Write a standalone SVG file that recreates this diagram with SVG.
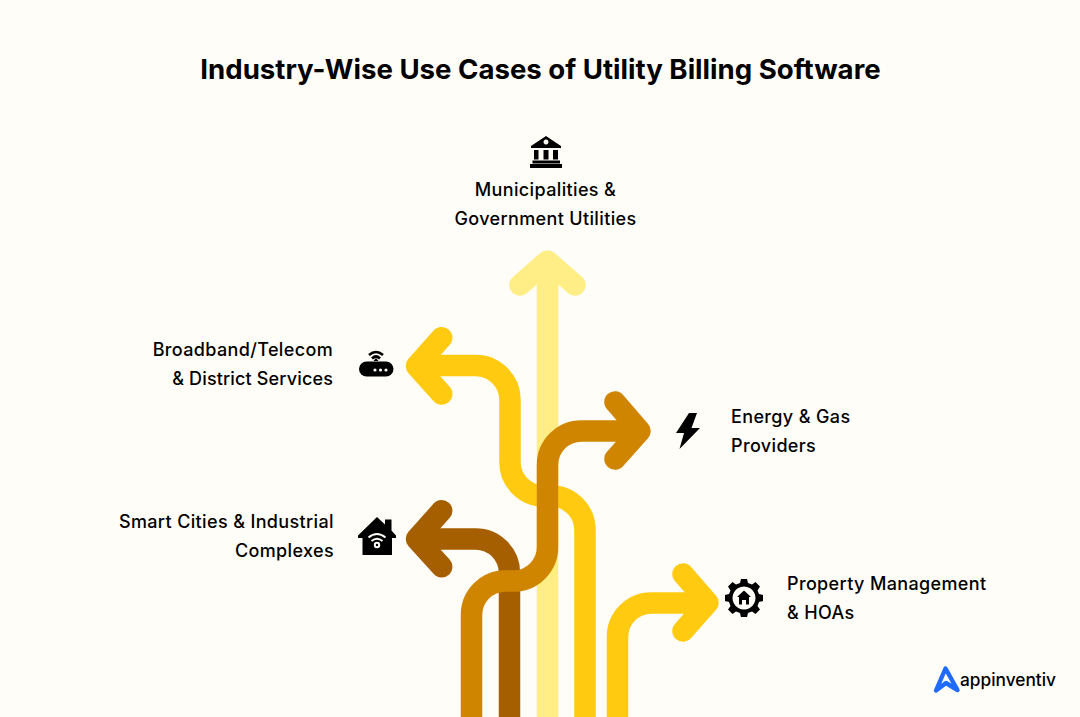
<svg xmlns="http://www.w3.org/2000/svg" width="1080" height="717" viewBox="0 0 1080 717">
<style>
.t{font-family:Inter,"Liberation Sans",sans-serif;font-size:18px;font-weight:500;fill:#000;letter-spacing:.36px}
.a{fill:none;stroke-width:21.5;stroke-linecap:round;stroke-linejoin:round}
.b{fill:none;stroke-width:21.5;stroke-linecap:butt;stroke-linejoin:round}
</style>
<rect width="1080" height="717" fill="#FFFDF7"/>
<text id="title" x="540.5" y="79" text-anchor="middle" style="font-family:Inter,'Liberation Sans',sans-serif;font-size:27.6px;font-weight:700;fill:#000">Industry-Wise Use Cases of Utility Billing Software</text>
<g id="connectors">
<g stroke="#FFEE85"><path class="b" d="M547.5 717V262"/><path class="a" d="M520 285L547.5 261L575 285"/></g>
<g stroke="#FFCA0F"><path class="b" d="M585 717V530A34 34 0 0 0 551 496H544A34 34 0 0 1 510 462V400A34.500 34.500 0 0 0 475.500 365.500H418"/><path class="a" d="M441.700 337.700L416.500 366L441.700 394"/></g>
<g stroke="#A65F00"><path class="b" d="M509.500 717V573A34 34 0 0 0 475.500 539H418"/><path class="a" d="M441.700 510.700L416.500 539L441.700 566.700"/></g>
<g stroke="#FFCA0F"><path class="b" d="M617.500 717V637A34 34 0 0 1 651.500 603H695"/><path class="a" d="M683 574L708 602.700L683 631"/></g>
<g stroke="#CF8500"><path class="b" d="M471.500 717V615A34 34 0 0 1 505.500 581H513.500A34 34 0 0 0 547.500 547V465A34 34 0 0 1 581.500 431H630"/><path class="a" d="M615 402L640 431L615 459"/></g>
</g>
<g id="node-municipalities">
<path d="M546 136L561 146V148H531V146ZM546 139.500a2.500 2.500 0 1 0 .01 0Z" fill-rule="evenodd"/>
<path d="M534 150H538.500V159.500H534ZM543.500 150H548.500V159.500H543.500ZM553 150H558V159.500H553ZM532.500 160.500H560V163.500H532.500ZM530 164H562V168H530Z"/>
<text class="t" x="545.500" y="196" text-anchor="middle">Municipalities &amp;</text>
<text class="t" x="545.500" y="225" text-anchor="middle">Government Utilities</text>
</g>
<g id="node-broadband">
<path d="M366.500 361.500H386a6.500 6.500 0 0 1 0 15H366.500a7.500 7.500 0 0 1 0-15Z"/>
<circle cx="375" cy="370" r="1.600" fill="#FFFDF7"/><circle cx="380.500" cy="370" r="1.600" fill="#FFFDF7"/><circle cx="386" cy="370" r="1.600" fill="#FFFDF7"/>
<path d="M369 355Q376 349 383 355" fill="none" stroke="#000" stroke-width="2.600"/>
<path d="M372 358.500Q376 354.500 380 358.500" fill="none" stroke="#000" stroke-width="2.600"/>
<path d="M376 358L378.500 361H373.500Z"/>
<text class="t" x="333" y="356" text-anchor="end">Broadband/Telecom</text>
<text class="t" x="333" y="385" text-anchor="end" style="letter-spacing:.15px">&amp; District Services</text>
</g>
<g id="node-smart">
<path d="M377 517L385 524.500V519.500H391.500V530.500L396 535.500V538H392V555H362.500V538H358V535.500Z"/>
<path d="M368.500 537.500Q377 530.500 385.500 537.500M371.500 541Q377 536.500 382.500 541" fill="none" stroke="#FFFDF7" stroke-width="2"/>
<circle cx="377" cy="545" r="2.200" fill="none" stroke="#FFFDF7" stroke-width="2"/>
<text class="t" x="334" y="528" text-anchor="end">Smart Cities &amp; Industrial</text>
<text class="t" x="334" y="557" text-anchor="end">Complexes</text>
</g>
<g id="node-energy">
<path d="M689 413L676 433H684L679.500 449L700 428H691.500L697 413Z"/>
<text class="t" x="731" y="423">Energy &amp; Gas</text>
<text class="t" x="731" y="452">Providers</text>
</g>
<g id="node-property">
<path fill-rule="evenodd" d="M741 579H747L748 583L752 584.500L755.500 582L760 586.500L757.500 590.500L759 594L763 595V601L759 602L757.500 606L760 609.500L755.500 614L752 611.500L748 613L747 617H741L740 613L736 611.500L732.500 614L728 609.500L730.500 606L729 602L725 601V595L729 594L730.500 590.500L728 586.500L732.500 582L736 584.500L740 583ZM744 586.500a11.500 11.500 0 1 0 .01 0Z"/>
<path d="M744 590.500L751 597H749V604.500H746V600H742V604.500H739V597H737Z"/>
<text class="t" x="787" y="590">Property Management</text>
<text class="t" x="787" y="619">&amp; HOAs</text>
</g>
<g id="logo">
<path d="M945.500 668.500L957.500 690L946 683L936 690.500Z" fill="none" stroke="#1F6BFF" stroke-width="4.400" stroke-linejoin="round" stroke-linecap="round"/>
<text x="960" y="686" style="font-family:Inter,'Liberation Sans',sans-serif;font-size:17.3px;font-weight:500;fill:#000">appinventiv</text>
</g>
</svg>
